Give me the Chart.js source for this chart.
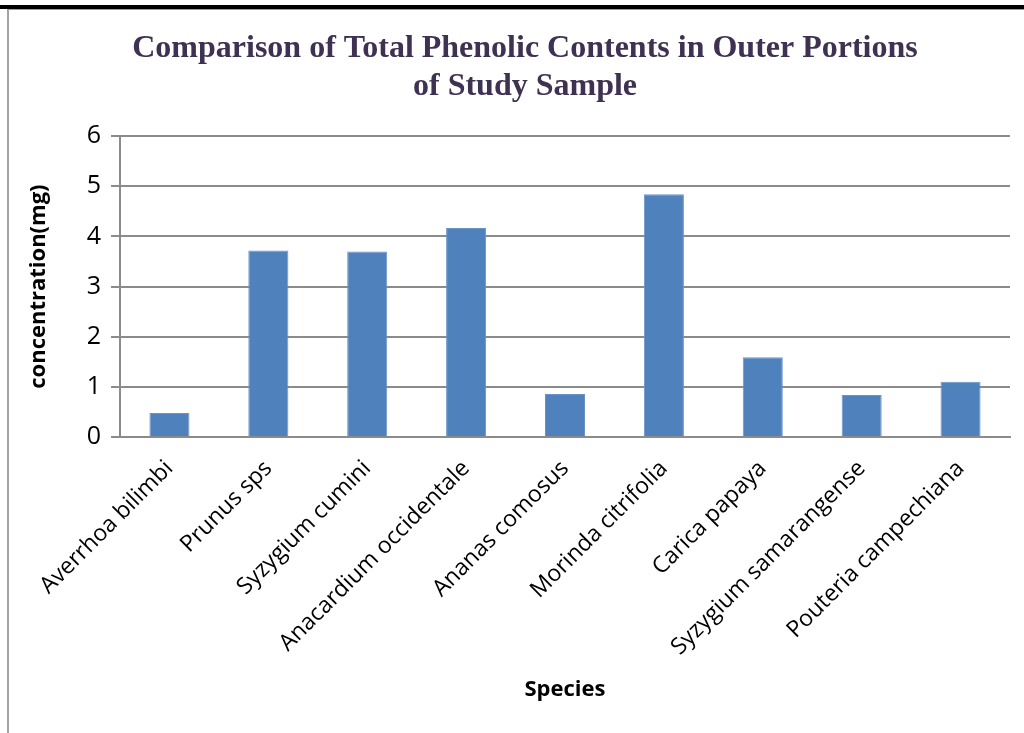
<!DOCTYPE html>
<html>
<head>
<meta charset="utf-8">
<script src="https://cdn.jsdelivr.net/npm/chart.js@4.4.1/dist/chart.umd.min.js"></script>
<style>
  html, body { margin: 0; padding: 0; background: #ffffff; }
  #wrap { position: relative; width: 1024px; height: 733px; overflow: hidden; background: #ffffff; }
  #chart { position: absolute; left: 0; top: 0; }
  .rule-top { position: absolute; left: 0; top: 5px; width: 1024px; height: 4px; background: #000000; }
  .rule-thin { position: absolute; left: 7px; top: 9px; width: 1017px; height: 1px; background: #9a9a9a; }
  .rule-left { position: absolute; left: 7px; top: 9px; width: 2px; height: 724px; background: #a3a3a3; }
</style>
</head>
<body>
<div id="wrap">
  <canvas id="chart" width="1024" height="733"></canvas>
  <div class="rule-top"></div>
  <div class="rule-thin"></div>
  <div class="rule-left"></div>
</div>
<script>
// Species sampled and their total phenolic content (mg) in the outer portions
const species = [
  'Averrhoa bilimbi',
  'Prunus sps',
  'Syzygium cumini',
  'Anacardium occidentale',
  'Ananas comosus',
  'Morinda citrifolia',
  'Carica papaya',
  'Syzygium samarangense',
  'Pouteria campechiana'
];
const phenolicContent = [0.48, 3.72, 3.70, 4.17, 0.86, 4.84, 1.59, 0.84, 1.10];
const yTicks = [0, 1, 2, 3, 4, 5, 6];

const titleLines = ['Comparison of Total Phenolic Contents in Outer Portions', 'of Study Sample'];
const yAxisTitle = 'concentration(mg)';
const xAxisTitle = 'Species';

const sansFamily = "'Open Sans', 'Liberation Sans', sans-serif";
const gridGrey = '#8b8b8b';

new Chart(document.getElementById('chart'), {
  type: 'bar',
  data: {
    labels: species,
    datasets: [{
      data: phenolicContent,
      backgroundColor: '#4f81bd',
      borderColor: '#6a94c8',
      borderWidth: 1,
      categoryPercentage: 1.0,
      barPercentage: 0.405
    }]
  },
  options: {
    responsive: false,
    animation: false,
    devicePixelRatio: 1,
    layout: { padding: { left: 40, right: 14, top: 0, bottom: 20 } },
    plugins: {
      legend: { display: false },
      tooltip: { enabled: false },
      title: {
        display: true,
        text: titleLines,
        color: '#3f3151',
        font: { family: "'Liberation Serif', 'Times New Roman', serif", size: 32, weight: 'bold', lineHeight: 1.19 },
        padding: { top: 30, bottom: 30 }
      }
    },
    scales: {
      x: {
        grid: { display: false, drawTicks: false },
        border: { display: true, color: gridGrey, width: 2 },
        ticks: {
          color: '#000000',
          font: { family: sansFamily, size: 23 },
          minRotation: 45,
          maxRotation: 45,
          padding: 18,
          autoSkip: false
        },
        title: {
          display: true,
          text: xAxisTitle,
          color: '#000000',
          font: { family: sansFamily, size: 22, weight: 'bold', lineHeight: 1.2 },
          padding: { top: 0, bottom: 10 }
        },
        afterFit: (scale) => { scale.height = 276; }
      },
      y: {
        min: 0,
        max: 6,
        afterBuildTicks: (scale) => { scale.ticks = yTicks.map(v => ({ value: v })); },
        grid: { color: gridGrey, lineWidth: 2, tickLength: 9, drawTicks: true },
        border: { display: true, color: gridGrey, width: 2 },
        ticks: {
          color: '#000000',
          font: { family: sansFamily, size: 25 },
          padding: 10
        },
        title: {
          display: true,
          text: yAxisTitle,
          color: '#000000',
          font: { family: sansFamily, size: 22, weight: 'bold', lineHeight: 1.2 },
          // axis box starts at x=40; pull the rotated title back towards the page edge
          padding: { top: -14, bottom: 0 }
        },
        afterFit: (scale) => { scale.width = 80; }
      }
    }
  }
});
</script>
</body>
</html>
